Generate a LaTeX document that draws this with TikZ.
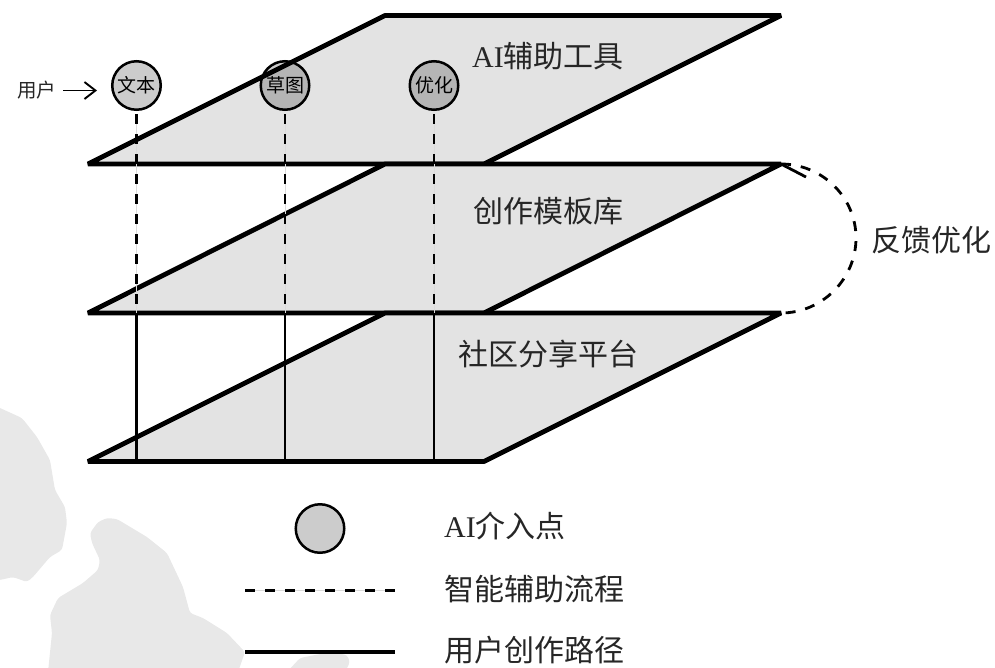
\documentclass[tikz,border=0pt]{standalone}
\usepackage{fontspec}
\usetikzlibrary{arrows.meta}
\setmainfont{Noto Sans CJK SC}
\newfontfamily\latinf{Liberation Serif}
\definecolor{planefill}{HTML}{E3E3E3}
\definecolor{markfill}{HTML}{E8E8E8}
\tikzset{
  plane/.style={draw=black,fill=planefill,line width=4.8pt,line join=bevel},
  blob/.style={fill=markfill,draw=none,rounded corners=3pt},
  aipoint/.style={circle,draw=black,line width=2.5pt,fill=black,fill opacity=0.2,text opacity=1,minimum size=48.5pt,inner sep=0pt,font=\fontsize{19}{19}\selectfont},
  dashline/.style={draw=black,line width=2.8pt,dash pattern=on 10pt off 10pt,preaction={draw=black!14,solid,line width=1pt}},
  pathline/.style={draw=black,line width=2.8pt},
  label/.style={inner sep=0pt,font=\fontsize{30}{30}\selectfont,text=black!85},
  smalllabel/.style={inner sep=0pt,font=\fontsize{19.5}{19.5}\selectfont,text=black!85}
}
\begin{document}
\begin{tikzpicture}[x=1pt,y=-1pt]
\useasboundingbox (0,0) rectangle (995,667);
% background marks
\fill[blob] (-5,406) -- (0,408) -- (22,418) -- (37,437) -- (50,460) -- (55,490) -- (65,507) -- (67,523) -- (62,550) -- (50,557) -- (33,577) -- (27,582) -- (13,577) -- (0,580) -- (-5,580) -- cycle;
\fill[blob] (107,518) -- (117,519) -- (147,537) -- (167,553) -- (183,587) -- (190,613) -- (203,618) -- (227,633) -- (245,652) -- (238,672) -- (48,672) -- (52,633) -- (50,615) -- (58,598) -- (83,583) -- (98,570) -- (100,560) -- (92,543) -- (90,533) -- (98,522) -- cycle;
\fill[blob] (287,672) -- (300,658) -- (330,652) -- (347,655) -- (350,662) -- (345,672) -- cycle;
% corners
\coordinate (ta) at (88,164); \coordinate (tb) at (385,15.5); \coordinate (tc) at (781,15.5); \coordinate (td) at (484,164);
\coordinate (ma) at (88,313); \coordinate (mb) at (385,164); \coordinate (mc) at (781,164); \coordinate (md) at (484,313);
\coordinate (ba) at (88,461.5); \coordinate (bb) at (385,313); \coordinate (bc) at (781,313); \coordinate (bd) at (484,461.5);
% planes
\draw[plane] (ta) -- (tb) -- (tc) -- (td) -- cycle;
\draw[plane] (ma) -- (mb) -- (mc) -- (md) -- cycle;
\draw[plane] (ba) -- (bb) -- (bc) -- (bd) -- cycle;
% plane labels
\node[label] (ltop) at (548,56) {{\latinf AI}辅助工具};
\node[label] (lmid) at (548,211) {创作模板库};
\node[label] (lbot) at (548,354) {社区分享平台};
% AI points
\node[aipoint] (c1) at (136.5,85.5) {文本};
\node[aipoint] (c2) at (285,85.5) {草图};
\node[aipoint] (c3) at (434,85.5) {优化};
% junctions on the middle and bottom planes
\coordinate (j1) at (136.5,313); \coordinate (j2) at (285,313); \coordinate (j3) at (434,313);
\coordinate (e1) at (136.5,461.5); \coordinate (e2) at (285,461.5); \coordinate (e3) at (434,461.5);
\draw[dashline,shorten <=3pt] (c1.south) -- (j1);
\draw[dashline,shorten <=3pt] (c2.south) -- (j2);
\draw[dashline,shorten <=3pt] (c3.south) -- (j3);
\draw[pathline] (j1) -- (e1);
\draw[pathline] (j2) -- (e2);
\draw[pathline] (j3) -- (e3);
% user
\node[smalllabel] (user) at (36.5,90.5) {用户};
\draw[line width=1.9pt,-{Straight Barb[length=11pt,width=17pt,line width=1.9pt]}] (user.east) ++(7,0) -- (c1.west |- user.east) [shorten >=14pt];
% feedback
\coordinate (fb) at (806,177);
\draw[draw=black,line width=2.8pt,dash pattern=on 10pt off 10pt] (mc) .. controls (822,164) and (856,197) .. (856,238) .. controls (856,279) and (822,313) .. (bc);
\draw[pathline] (mc) -- (fb);
\node[label] (lfb) at (931,240) {反馈优化};
% legend
\node[aipoint] (lc) at (320,528.5) {};
\coordinate (d1) at (245,590.5); \coordinate (d2) at (395,590.5);
\coordinate (s1) at (245,652); \coordinate (s2) at (395,652);
\draw[dashline] (d1) -- (d2);
\draw[draw=black,line width=4.8pt] (s1) -- (s2);
\node[label,anchor=west] (l1) at (444,526.5) {{\latinf AI}介入点};
\node[label,anchor=west] (l2) at (444,589) {智能辅助流程};
\node[label,anchor=west] (l3) at (444,650) {用户创作路径};
\end{tikzpicture}
\end{document}
